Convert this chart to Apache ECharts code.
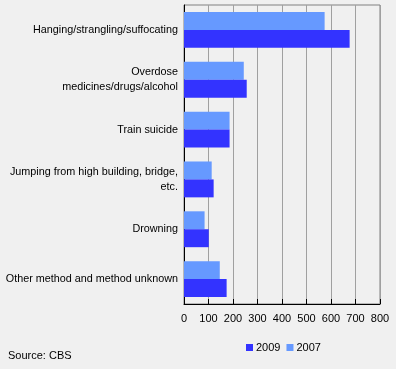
<!DOCTYPE html>
<html><head><meta charset="utf-8">
<script src="https://cdn.jsdelivr.net/npm/echarts@6/dist/echarts.min.js"></script>
<style>html,body{margin:0;padding:0;background:#f0f0f0}#c{width:396px;height:369px}</style>
</head><body><div id="c"></div>
<script>
var categories = ['Hanging/strangling/suffocating','Overdose\nmedicines/drugs/alcohol','Train suicide','Jumping from high building, bridge,\netc.','Drowning','Other method and method unknown'];
var values2007 = [574, 244, 186, 113, 84, 146];
var values2009 = [676, 256, 186, 121, 101, 174];
var xTicks = [0,100,200,300,400,500,600,700,800];
var font = 'Liberation Sans, Arial, sans-serif';
var chart = echarts.init(document.getElementById('c'));
chart.setOption({
  backgroundColor:'#f0f0f0',
  animation:false,
  textStyle:{fontFamily:font},
  grid:{left:184,right:16,top:5,bottom:65,show:true,borderColor:'#808080',borderWidth:1,backgroundColor:'#f0f0f0'},
  xAxis:{type:'value',min:xTicks[0],max:xTicks[xTicks.length-1],interval:100,
    axisLine:{show:true,lineStyle:{color:'#000',width:1}},
    axisTick:{show:true,inside:true,length:5,lineStyle:{color:'#000'}},
    axisLabel:{color:'#000',fontSize:11,fontFamily:font,margin:9},
    splitLine:{show:true,lineStyle:{color:'#a0a0a0',width:1}}},
  yAxis:{type:'category',data:categories,inverse:true,
    axisLine:{show:true,lineStyle:{color:'#000',width:1}},
    axisTick:{show:false},
    axisLabel:{color:'#000',fontSize:10.8,fontFamily:font,margin:6,lineHeight:15,align:'right'}},
  legend:{data:['2009','2007'],left:241,top:337,itemWidth:7,itemHeight:7,itemGap:6,icon:'rect',
    textStyle:{fontSize:11,fontFamily:font,color:'#000',padding:[0,0,0,-2]}},
  graphic:[{type:'text',left:8,top:350,style:{text:'Source: CBS',font:'11px '+font,fill:'#000'}}],
  series:[
    {name:'2007',type:'bar',data:values2007,itemStyle:{color:'#6699ff'},barGap:'0%',barCategoryGap:'28%'},
    {name:'2009',type:'bar',data:values2009,itemStyle:{color:'#3333ff'},barGap:'0%',barCategoryGap:'28%'}
  ]
});
</script></body></html>
